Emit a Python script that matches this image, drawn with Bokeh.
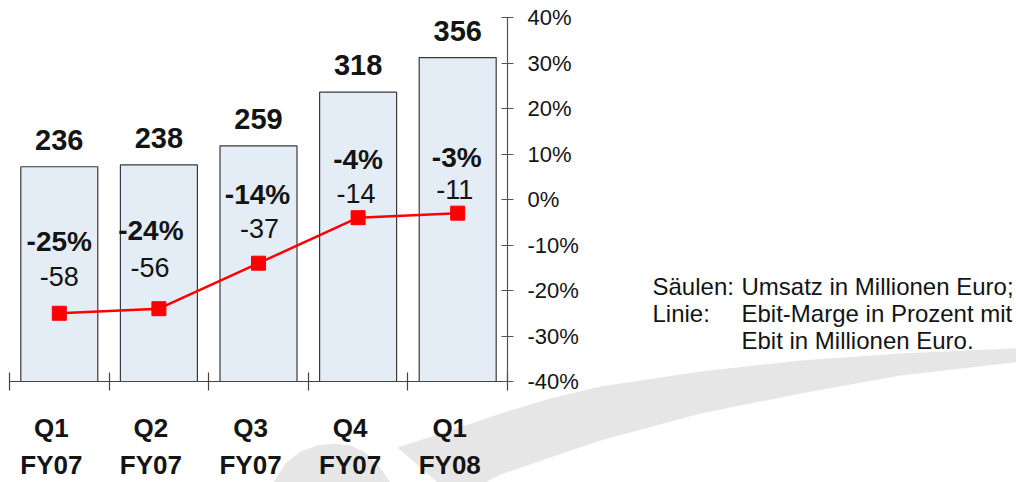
import numpy as np
from bokeh.plotting import figure
from bokeh.models import (Range1d, LinearAxis, FixedTicker, PrintfTickFormatter,
                          CustomJSTickFormatter, ColumnDataSource, GridBox, Column)
from bokeh.core.properties import value
from bokeh.embed import file_html
from bokeh.resources import INLINE

# ---------------- data ----------------
quarters = ["Q1", "Q2", "Q3", "Q4", "Q1"]
years = ["FY07", "FY07", "FY07", "FY07", "FY08"]
revenue = [236, 238, 259, 318, 356]          # Umsatz in Mio. Euro
ebit_margin = [-25, -24, -14, -4, -3]         # Ebit-Marge in %
ebit = [-58, -56, -37, -14, -11]              # Ebit in Mio. Euro
pct_ticks = [-40, -30, -20, -10, 0, 10, 20, 30, 40]
legend_keys = ["Säulen:", "Linie:", ""]
legend_texts = ["Umsatz in Millionen Euro;", "Ebit-Marge in Prozent mit",
                "Ebit in Millionen Euro."]

# ---------------- layout / style ----------------
FONT = "Liberation Sans"
TXT = "#141414"
W, H = 1016, 482
# nudges (pixels) of the labels inside the bars, relative to the line points
pct_dx = [0, -8, -1, 0, -1]
pct_dy = [-72, -78, -69, -58, -56]
ebit_dx = [0, -9, 1, -2, -3]
ebit_dy = [-37, -41, -35, -24, -24]

# ---------- background layer: swoosh + explanatory text (pixel space) ----------
bg = figure(width=W, height=H, output_backend="svg", toolbar_location=None,
            x_range=Range1d(0, W), y_range=Range1d(H, 0),
            x_axis_location=None, y_axis_location=None, min_border=0)
bg.grid.visible = False
bg.outline_line_color = None
bg.background_fill_color = "white"
bg.border_fill_color = "white"

dome = [(262, 490), (273, 482), (285, 463), (300, 451), (317, 445), (333, 443),
        (350, 445), (365, 452), (378, 465), (390, 482), (393, 490)]
band = [(447, 490), (437, 482), (397, 447), (450, 430), (500, 413), (550, 398),
        (600, 386), (700, 371), (800, 360), (900, 353), (1030, 347),
        (1030, 360), (900, 375), (800, 393), (700, 413), (600, 440),
        (550, 457), (500, 474), (485, 482), (480, 490)]
for shape in (dome, band):
    bg.patch([pt[0] for pt in shape], [pt[1] for pt in shape],
             fill_color="#e6e6e6", line_color=None)

leg_y = [286, 313, 340]
bg.text(x=[652] * 2, y=leg_y[:2], text=legend_keys[:2], text_font=value(FONT),
        text_font_size="24px", text_color=TXT, text_baseline="alphabetic")
bg.text(x=[741] * 3, y=leg_y, text=legend_texts, text_font=value(FONT),
        text_font_size="24px", text_color=TXT, text_baseline="alphabetic")

# ---------- chart layer (transparent, on top) ----------
p = figure(width=W, height=H, output_backend="svg", toolbar_location=None,
           x_range=Range1d(0, 5), y_range=Range1d(0, 400),
           x_axis_location=None, y_axis_location=None,
           min_border_left=9, min_border_right=W - 507,
           min_border_top=17, min_border_bottom=H - 381)
p.extra_y_ranges = {"pct": Range1d(-40, 40)}
p.grid.visible = False
p.outline_line_color = None
p.background_fill_color = None
p.border_fill_color = None

x = np.arange(len(revenue)) + 0.5
src = ColumnDataSource(dict(
    x=x, rev=revenue, pct=ebit_margin, ebit=ebit,
    rev_lbl=[str(v) for v in revenue],
    pct_lbl=[f"{v}%" for v in ebit_margin],
    ebit_lbl=[str(v) for v in ebit],
    pdx=pct_dx, pdy=pct_dy, edx=ebit_dx, edy=ebit_dy,
))

p.vbar(x="x", top="rev", bottom=0, width=0.773, source=src,
       fill_color="#e4ecf5", line_color="#3a3a3a", line_width=1.2)

p.text(x="x", y="rev", text="rev_lbl", source=src, y_offset=-27,
       text_align="center", text_baseline="alphabetic",
       text_font=value(FONT), text_font_style="bold", text_font_size="29px",
       text_color=TXT)

p.line(x="x", y="pct", y_range_name="pct", source=src,
       line_color="#ff0000", line_width=2.5)
p.scatter(x="x", y="pct", y_range_name="pct", source=src, marker="square",
          size=14, fill_color="#ff0000", line_color="#ff0000")

p.text(x="x", y="pct", y_range_name="pct", text="pct_lbl", source=src,
       x_offset="pdx", y_offset="pdy", text_align="center",
       text_baseline="alphabetic", text_font=value(FONT),
       text_font_style="bold", text_font_size="28px", text_color=TXT)
p.text(x="x", y="pct", y_range_name="pct", text="ebit_lbl", source=src,
       x_offset="edx", y_offset="edy", text_align="center",
       text_baseline="alphabetic", text_font=value(FONT),
       text_font_size="27px", text_color=TXT)

# x axis: boundary ticks (minor) + two-line category labels
fmt = CustomJSTickFormatter(args=dict(q=quarters, fy=years),
                            code="const i = Math.floor(tick); return q[i] + '\\n' + fy[i];")
xaxis = LinearAxis(ticker=FixedTicker(ticks=[i + 0.42 for i in range(len(quarters))],
                                      minor_ticks=list(range(len(quarters) + 1))),
                   formatter=fmt,
                   axis_line_color="#444444", axis_line_width=1.2,
                   major_tick_line_color=None, major_tick_in=0, major_tick_out=0,
                   minor_tick_line_color="#444444", minor_tick_line_width=1.2,
                   minor_tick_in=9, minor_tick_out=9,
                   major_label_standoff=22,
                   major_label_text_font=FONT, major_label_text_font_style="bold",
                   major_label_text_font_size="26px", major_label_text_color=TXT,
                   major_label_text_line_height=1.24)
p.add_layout(xaxis, "below")

yaxis = LinearAxis(y_range_name="pct", ticker=FixedTicker(ticks=pct_ticks),
                   formatter=PrintfTickFormatter(format="%d%%"),
                   axis_line_color="#555555", axis_line_width=1.2,
                   major_tick_line_color="#555555", major_tick_line_width=1.2,
                   major_tick_in=6, major_tick_out=6,
                   minor_tick_line_color=None,
                   major_label_standoff=14,
                   major_label_text_font=FONT, major_label_text_font_size="22px",
                   major_label_text_color=TXT)
p.add_layout(yaxis, "right")

layout = GridBox(children=[(Column(children=[bg]), 0, 0), (p, 0, 0)])
open("out.html", "w").write(file_html(layout, INLINE))
